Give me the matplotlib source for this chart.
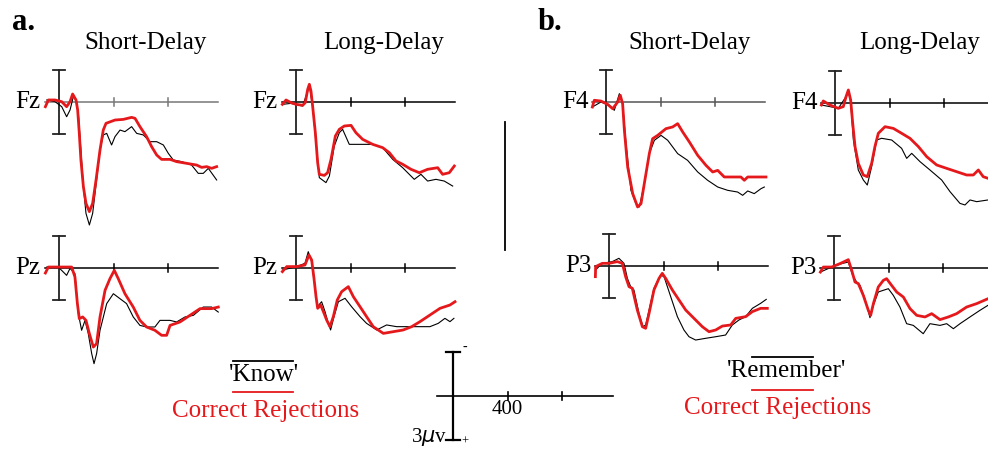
import matplotlib
matplotlib.use("Agg")
import matplotlib.pyplot as plt
from matplotlib.lines import Line2D

# ============================ DATA ============================
# time in ms, amplitude in µV (negative plotted up)
# --- a. Fz short-delay ---
A_FZ_S_CR_T = [-100, -78, -29, 20, 56, 81, 100, 125, 137, 149, 161, 179, 198, 223, 247, 272, 301, 325, 345,
               411, 472, 533, 558, 594, 643, 680, 717, 753, 815, 863, 937, 1010, 1047, 1084, 1120, 1157]
A_FZ_S_CR_V = [0.44, -0.19, -0.19, -0.03, 0.44, -0.03, -0.75, -0.19, 0.75, 2.94, 5.44, 7.94, 9.5, 10.28, 9.5,
               7.31, 4.5, 2.63, 2.0, 1.69, 1.63, 1.44, 1.53, 2.31, 3.25, 4.19, 4.97, 5.38, 5.38, 5.59, 5.75,
               5.91, 6.13, 6.06, 6.22, 6.06]
A_FZ_S_K_T = [-90, -29, 20, 56, 81, 105, 125, 142, 159, 179, 198, 223, 247, 276, 301, 325, 350, 386, 411, 448,
              484, 533, 570, 619, 668, 717, 766, 802, 839, 900, 973, 1022, 1059, 1096, 1157]
A_FZ_S_K_V = [-0.19, -0.03, 0.44, 1.38, 0.75, -0.5, -0.19, 1.06, 4.19, 7.94, 10.44, 11.53, 10.44, 7.31, 4.5,
              3.09, 2.94, 4.03, 3.25, 2.63, 2.78, 2.31, 2.94, 3.09, 3.72, 3.72, 4.03, 4.81, 5.44, 5.59, 5.91,
              6.69, 6.69, 6.22, 7.31]
# --- a. Fz long-delay ---
A_FZ_L_CR_T = [-100, -73, -37, 0, 49, 68, 86, 98, 110, 122, 142, 159, 171, 208, 232, 257, 289, 318, 355, 404,
               440, 489, 563, 636, 685, 734, 783, 844, 905, 966, 1040, 1076, 1125, 1162]
A_FZ_L_CR_V = [0.22, -0.19, 0.06, 0.22, 0.31, 0.06, -1.19, -1.66, -1.03, 0.38, 2.88, 5.69, 6.78, 6.88, 6.63,
               5.38, 3.19, 2.56, 2.25, 2.19, 2.88, 3.5, 3.97, 4.28, 4.75, 5.53, 5.84, 6.31, 6.63, 6.31, 6.16,
               6.78, 6.63, 6.0]
A_FZ_L_K_T = [-100, -37, 49, 98, 122, 147, 171, 220, 245, 281, 318, 342, 391, 563, 636, 710, 783, 868, 917,
              966, 1027, 1088, 1150]
A_FZ_L_K_V = [0.22, 0.13, 0.38, -1.5, 0.38, 3.81, 7.09, 7.56, 6.94, 4.13, 2.88, 2.56, 3.97, 3.97, 4.28, 5.38,
              6.16, 7.25, 6.78, 7.41, 7.25, 7.41, 7.88]
# --- a. Pz short-delay ---
A_PZ_S_CR_T = [-100, -78, 7, 93, 117, 135, 149, 174, 198, 223, 252, 276, 301, 338, 374, 406, 435, 484, 545,
               594, 643, 704, 753, 790, 815, 888, 961, 1035, 1120, 1169]
A_PZ_S_CR_V = [0.47, -0.09, -0.09, -0.09, 0.84, 3.34, 4.75, 4.59, 4.91, 6.16, 7.41, 7.09, 4.59, 2.09, 1.0,
               0.22, 1.0, 2.41, 3.66, 4.91, 5.53, 5.84, 6.31, 6.31, 5.38, 5.06, 4.44, 3.81, 3.81, 3.66]
A_PZ_S_K_T = [-90, -5, 56, 81, 117, 142, 166, 191, 215, 240, 257, 276, 301, 350, 399, 448, 496, 545, 594, 643,
              704, 741, 815, 863, 925, 986, 1059, 1120, 1169]
A_PZ_S_K_V = [-0.09, -0.09, 0.69, 0.03, 0.53, 4.28, 5.84, 4.91, 6.16, 8.03, 8.97, 8.03, 5.84, 3.34, 2.41, 2.88,
              3.34, 4.59, 5.38, 5.53, 5.53, 4.91, 4.91, 5.06, 4.59, 4.44, 3.66, 3.66, 4.13]
# --- a. Pz long-delay ---
A_PZ_L_CR_T = [-100, -68, 5, 66, 95, 115, 132, 147, 159, 181, 201, 225, 249, 274, 303, 335, 384, 421, 470,
               518, 567, 641, 714, 787, 849, 910, 983, 1057, 1130, 1167]
A_PZ_L_CR_V = [0.34, -0.13, -0.13, -0.28, -1.22, -0.75, 0.97, 2.69, 3.78, 3.47, 4.09, 4.88, 5.5, 4.56, 3.0,
               2.22, 1.75, 2.69, 3.63, 4.56, 5.5, 6.13, 5.97, 5.81, 5.5, 5.03, 4.41, 3.78, 3.47, 3.16]
A_PZ_L_K_T = [-100, 5, 66, 90, 115, 139, 157, 188, 213, 237, 254, 279, 311, 360, 408, 470, 518, 592, 665, 739,
              837, 910, 983, 1044, 1093, 1130, 1159]
A_PZ_L_K_V = [0.19, -0.13, -0.44, -1.53, -0.59, 1.75, 3.63, 3.16, 4.09, 5.19, 5.81, 4.56, 3.16, 2.84, 3.63,
              4.56, 5.19, 5.81, 5.34, 5.5, 5.5, 5.5, 5.5, 5.19, 4.72, 5.03, 4.72]
# --- b. F4 short-delay ---
B_F4_S_CR_T = [-100, -86, -37, 12, 49, 86, 105, 122, 135, 159, 196, 232, 257, 281, 318, 342, 379, 440, 489,
               526, 563, 612, 673, 734, 783, 820, 868, 990, 1015, 1040, 1174]
B_F4_S_CR_V = [0.47, -0.16, -0.09, 0.22, 0.63, 0.0, -0.63, 0.16, 2.66, 6.09, 8.59, 9.84, 9.53, 7.66, 4.84,
               3.44, 3.13, 2.5, 2.34, 2.03, 2.81, 3.75, 5.0, 5.94, 6.56, 6.41, 7.03, 7.03, 7.34, 7.03, 7.03]
B_F4_S_R_T = [-100, -37, 24, 61, 98, 122, 147, 183, 220, 245, 281, 318, 355, 404, 453, 526, 599, 673, 746,
              820, 893, 966, 1003, 1040, 1088, 1137, 1162]
B_F4_S_R_V = [0.47, 0.0, 0.31, 0.78, -0.78, 0.16, 3.91, 8.28, 9.53, 9.84, 7.66, 4.84, 3.59, 3.13, 3.59, 4.84,
              5.47, 6.56, 7.34, 7.97, 8.28, 8.44, 8.75, 8.34, 8.59, 8.13, 7.97]
# --- b. F4 long-delay ---
B_F4_L_CR_T = [-100, -86, -37, 24, 61, 81, 98, 115, 130, 147, 171, 208, 237, 269, 293, 318, 367, 428, 489,
               550, 612, 673, 746, 820, 893, 966, 1015, 1052, 1088, 1123, 1162]
B_F4_L_CR_V = [0.19, -0.19, 0.19, 0.5, 0.34, -0.59, -1.22, -0.28, 1.91, 4.09, 5.66, 6.75, 6.91, 5.66, 4.09,
               2.84, 2.22, 2.38, 2.84, 3.31, 4.09, 5.03, 5.81, 6.13, 6.44, 6.75, 6.75, 6.28, 6.91, 7.06, 7.06]
B_F4_L_R_T = [-100, -37, 24, 73, 98, 115, 135, 171, 208, 237, 269, 306, 342, 416, 489, 526, 563, 624, 697,
              783, 844, 917, 954, 991, 1040, 1123, 1162]
B_F4_L_R_V = [0.19, 0.34, 0.5, -0.44, -1.06, -0.13, 3.47, 6.28, 7.22, 7.69, 5.97, 3.47, 3.31, 3.47, 4.25,
              5.19, 4.72, 5.5, 6.28, 7.22, 8.31, 9.41, 9.56, 9.09, 9.25, 9.09, 9.09]
# --- b. P3 short-delay ---
B_P3_S_CR_T = [-100, -98, -49, 0, 61, 98, 122, 147, 171, 208, 245, 269, 294, 330, 367, 391, 416, 465, 514,
               563, 624, 685, 734, 783, 832, 893, 930, 1003, 1052, 1113, 1162]
B_P3_S_CR_V = [1.0, 0.06, -0.25, -0.25, -0.41, -0.25, 1.0, 1.94, 2.09, 4.13, 5.69, 5.84, 4.44, 2.25, 1.16,
               0.69, 1.16, 2.25, 3.19, 4.13, 4.91, 5.69, 6.16, 6.0, 5.63, 5.53, 4.91, 4.75, 4.28, 3.97, 3.97]
B_P3_S_R_T = [-100, -49, 24, 73, 110, 135, 159, 183, 220, 249, 269, 294, 330, 379, 404, 453, 502, 550, 587,
              636, 709, 783, 856, 905, 954, 1003, 1052, 1113, 1154]
B_P3_S_R_V = [0.38, -0.25, -0.41, -0.72, -0.25, 1.16, 1.94, 2.25, 4.44, 5.69, 5.53, 4.13, 2.09, 0.84, 1.0,
              2.88, 4.75, 6.0, 6.63, 6.94, 6.78, 6.63, 6.47, 5.53, 5.06, 4.75, 3.97, 3.5, 3.13]
# --- b. P3 long-delay ---
B_P3_L_CR_T = [-100, -78, -17, 44, 105, 130, 154, 179, 215, 252, 269, 289, 325, 362, 386, 423, 460, 509, 558,
               607, 668, 717, 778, 839, 900, 973, 1047, 1130, 1169]
B_P3_L_CR_V = [0.38, -0.09, -0.09, -0.41, -0.78, 0.22, 1.31, 1.47, 2.56, 3.97, 4.44, 3.34, 1.78, 1.16, 1.0,
               1.63, 2.25, 2.72, 3.81, 4.44, 4.59, 4.28, 4.84, 4.59, 4.28, 3.66, 3.34, 2.88, 2.72]
B_P3_L_R_T = [-100, -17, 56, 105, 137, 166, 191, 227, 264, 289, 325, 362, 399, 435, 484, 533, 582, 655, 704,
              778, 827, 876, 925, 998, 1071, 1130]
B_P3_L_R_V = [0.38, -0.09, -0.41, -0.56, 0.69, 1.31, 1.63, 2.88, 4.66, 3.5, 2.25, 2.09, 1.94, 2.56, 3.66,
              5.22, 5.38, 6.16, 5.22, 5.38, 5.22, 5.69, 5.22, 4.59, 3.97, 3.5]

TITLES = ["Short-Delay", "Long-Delay", "Short-Delay", "Long-Delay"]
AXIS_TICKS = [400, 800]
EPOCH = (-100, 1168)
CAL_UV = 3
# ==============================================================

RED = "#e5191c"
W, H = 988, 449
PX_MS = 54.5 / 400      # pixels per ms
PX_UV = 32 / 3          # pixels per µV
XLIM = (-130, 1250)
YLIM = (13.5, -4.5)     # negative up

plt.rcParams["font.family"] = ["Liberation Serif", "DejaVu Serif"]
fig = plt.figure(figsize=(W / 100, H / 100), dpi=100)


def fx(x):
    return x / W


def fy(y):
    return 1 - y / H


def add_panel(onset_x, base_y):
    left = onset_x - (0 - XLIM[0]) * PX_MS
    top = base_y + YLIM[1] * PX_UV
    w = (XLIM[1] - XLIM[0]) * PX_MS
    h = (YLIM[0] - YLIM[1]) * PX_UV
    ax = fig.add_axes([fx(left), fy(top + h), w / W, h / H])
    ax.set_xlim(*XLIM)
    ax.set_ylim(*YLIM)
    ax.axis("off")
    ax.patch.set_alpha(0)
    return ax


def frame(ax, axis_color="black"):
    ax.plot(EPOCH, [0, 0], color=axis_color, lw=1.1)
    for tk in AXIS_TICKS:
        ax.plot([tk, tk], [-0.4, 0.4], color=axis_color, lw=1.1)
    ax.plot([0, 0], [-CAL_UV, CAL_UV], color="#222222", lw=1.3)
    for v in (-CAL_UV, CAL_UV):
        ax.plot([-45, 45], [v, v], color="#222222", lw=1.3)


panels = [
    (59, 102, "Fz", A_FZ_S_K_T, A_FZ_S_K_V, A_FZ_S_CR_T, A_FZ_S_CR_V, "#777777"),
    (296, 102, "Fz", A_FZ_L_K_T, A_FZ_L_K_V, A_FZ_L_CR_T, A_FZ_L_CR_V, "black"),
    (59, 268, "Pz", A_PZ_S_K_T, A_PZ_S_K_V, A_PZ_S_CR_T, A_PZ_S_CR_V, "black"),
    (296, 268, "Pz", A_PZ_L_K_T, A_PZ_L_K_V, A_PZ_L_CR_T, A_PZ_L_CR_V, "black"),
    (606, 102, "F4", B_F4_S_R_T, B_F4_S_R_V, B_F4_S_CR_T, B_F4_S_CR_V, "#555555"),
    (835, 103, "F4", B_F4_L_R_T, B_F4_L_R_V, B_F4_L_CR_T, B_F4_L_CR_V, "black"),
    (609, 266, "P3", B_P3_S_R_T, B_P3_S_R_V, B_P3_S_CR_T, B_P3_S_CR_V, "black"),
    (834, 268, "P3", B_P3_L_R_T, B_P3_L_R_V, B_P3_L_CR_T, B_P3_L_CR_V, "black"),
]

for ox, by, ch, kt, kv, ct, cv, acol in panels:
    ax = add_panel(ox, by)
    frame(ax, acol)
    ax.plot(kt, kv, color="black", lw=0.8)
    ax.plot(ct, cv, color=RED, lw=2.0)
    fig.text(fx(ox - 31), fy(by), ch, fontsize=18, ha="center", va="center")

# titles and panel letters
for cx, title in zip([146, 384, 690, 920], TITLES):
    fig.text(fx(cx), fy(43), title, fontsize=18, ha="center", va="center")
fig.text(fx(12), fy(22), "a.", fontsize=22, fontweight="bold", ha="left", va="center")
fig.text(fx(538), fy(22), "b.", fontsize=22, fontweight="bold", ha="left", va="center")

# divider between a and b
fig.add_artist(Line2D([fx(505), fx(505)], [fy(122), fy(250)], color="black", lw=1.3))

# legends
fig.text(fx(264), fy(375), "'Know'", fontsize=18, ha="center", va="center")
fig.add_artist(Line2D([fx(233), fx(293)], [fy(361), fy(361)], color="black", lw=1.3))
fig.add_artist(Line2D([fx(233), fx(293)], [fy(392), fy(392)], color=RED, lw=1.3))
fig.text(fx(266), fy(411), "Correct Rejections", fontsize=18, color=RED, ha="center", va="center")

fig.text(fx(787), fy(371), "'Remember'", fontsize=18, ha="center", va="center")
fig.add_artist(Line2D([fx(752), fx(813)], [fy(357), fy(357)], color="black", lw=1.3))
fig.add_artist(Line2D([fx(752), fx(813)], [fy(390), fy(390)], color=RED, lw=1.3))
fig.text(fx(778), fy(408), "Correct Rejections", fontsize=18, color=RED, ha="center", va="center")

# calibration key
kax = add_panel(453, 396)
kax.plot([-117, 1174], [0, 0], color="black", lw=1.2)
for tk in AXIS_TICKS:
    kax.plot([tk, tk], [-0.4, 0.4], color="black", lw=1.2)
kax.plot([0, 0], [-4.1, 4.1], color="black", lw=1.6)
for v in (-4.1, 4.1):
    kax.plot([-48, 48], [v, v], color="black", lw=1.6)
fig.text(fx(507), fy(410), "400", fontsize=15, ha="center", va="center")
fig.text(fx(447), fy(437), r"3$\mu$v", fontsize=15, ha="right", va="center")
fig.text(fx(465), fy(347), "-", fontsize=10, ha="center", va="center")
fig.text(fx(465), fy(442), "+", fontsize=9, ha="center", va="center")

fig.savefig("out.png", dpi=100)
